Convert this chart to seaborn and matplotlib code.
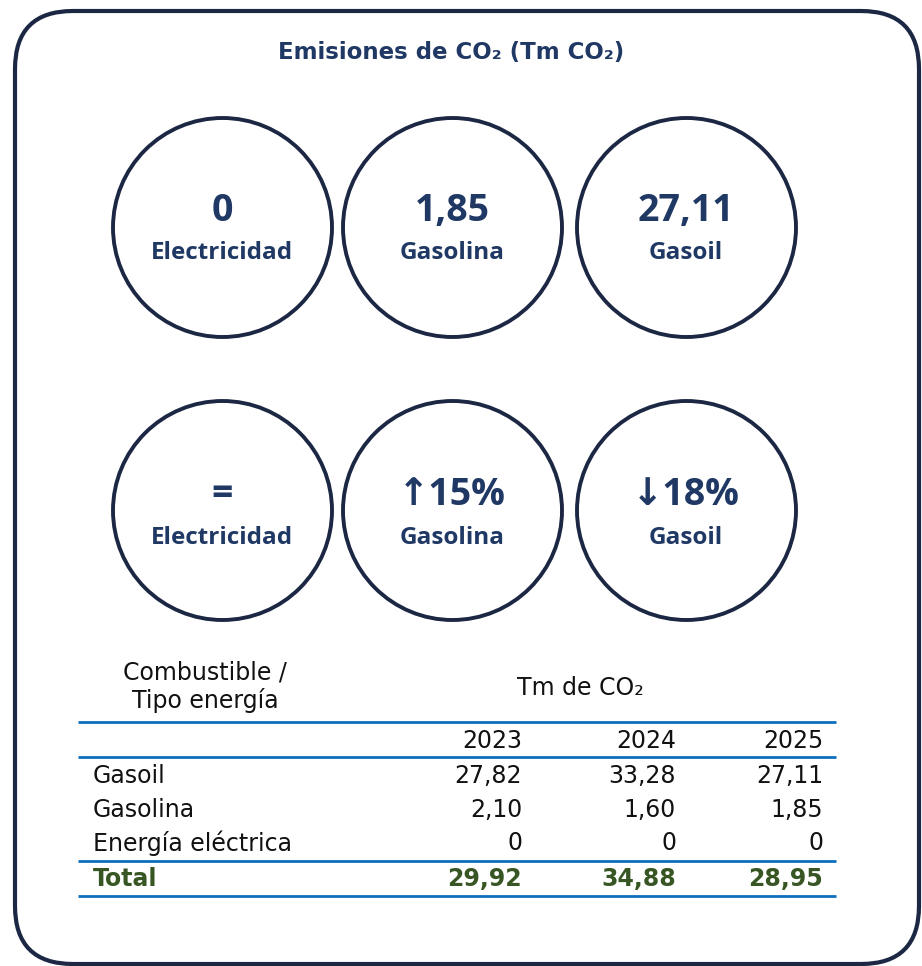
import matplotlib
matplotlib.use("Agg")
import matplotlib.pyplot as plt
import seaborn as sns
import pandas as pd
from matplotlib.patches import FancyBboxPatch

# data
titulo = "Emisiones de CO₂ (Tm CO₂)"
kpi_valores = ["0", "1,85", "27,11"]
kpi_cambios = ["=", "↑15%", "↓18%"]
kpi_nombres = ["Electricidad", "Gasolina", "Gasoil"]

anios = ["2023", "2024", "2025"]
combustibles = ["Gasoil", "Gasolina", "Energía eléctrica"]
gasoil = ["27,82", "33,28", "27,11"]
gasolina = ["2,10", "1,60", "1,85"]
electrica = ["0", "0", "0"]
totales = ["29,92", "34,88", "28,95"]

NAVY = "#1f3864"
EDGE = "#1c2744"
BLUE = "#0b6fbd"
GREEN = "#375623"

sns.set_theme(style="white")
plt.rcParams["font.family"] = ["DejaVu Sans"]

fig = plt.figure(figsize=(9.22, 9.66), dpi=100)
ax = fig.add_axes([0, 0, 1, 1])

# circulos
xs = [222, 452, 686]
circ = pd.DataFrame({"x": xs * 2, "y": [227] * 3 + [510] * 3})
d_pt = 219 * 72 / 100
sns.scatterplot(data=circ, x="x", y="y", s=d_pt ** 2, facecolor="white",
                edgecolor=EDGE, linewidth=2.8, ax=ax, zorder=2, legend=False)
ax.set_xlim(0, 922)
ax.set_ylim(966, 0)
ax.axis("off")

# marco redondeado
marco = FancyBboxPatch((15, 11), 904, 953, boxstyle="round,pad=0,rounding_size=58",
                       fc="white", ec=EDGE, lw=3.0, zorder=0)
ax.add_patch(marco)

ax.text(451, 52, titulo, ha="center", va="center", fontsize=16.5, fontweight="bold",
        color=NAVY)

kf = ["Open Sans", "DejaVu Sans"]
for x, v, c, n in zip(xs, kpi_valores, kpi_cambios, kpi_nombres):
    ax.text(x, 211, v, ha="center", va="center", fontsize=27, fontweight="bold", color=NAVY, zorder=3, family=kf)
    ax.text(x, 253, n, ha="center", va="center", fontsize=17.5, fontweight="bold", color=NAVY, zorder=3, family=kf)
    ax.text(x, 495, c, ha="center", va="center", fontsize=27, fontweight="bold", color=NAVY, zorder=3, family=kf)
    ax.text(x, 538, n, ha="center", va="center", fontsize=17.5, fontweight="bold", color=NAVY, zorder=3, family=kf)

# tabla
TXT = "#111111"
fs = 17
ax.text(205, 687, "Combustible /\nTipo energía", ha="center", va="center", fontsize=fs,
        color=TXT, linespacing=1.15)
ax.text(580, 688, "Tm de CO₂", ha="center", va="center", fontsize=fs, color=TXT)
ax.hlines([722, 757, 861, 896], 78, 836, colors=BLUE, lw=2.0)

col_x = [522, 676, 823]
for x, a in zip(col_x, anios):
    ax.text(x, 741, a, ha="right", va="center", fontsize=fs, color=TXT)

filas = [gasoil, gasolina, electrica]
row_y = [776, 810, 843]
for y, nombre, vals in zip(row_y, combustibles, filas):
    ax.text(93, y, nombre, ha="left", va="center", fontsize=fs, color=TXT)
    for x, v in zip(col_x, vals):
        ax.text(x, y, v, ha="right", va="center", fontsize=fs, color=TXT)

ax.text(93, 879, "Total", ha="left", va="center", fontsize=fs, fontweight="bold", color=GREEN)
for x, v in zip(col_x, totales):
    ax.text(x, 879, v, ha="right", va="center", fontsize=fs, fontweight="bold", color=GREEN)

fig.savefig("out.png", dpi=100)
